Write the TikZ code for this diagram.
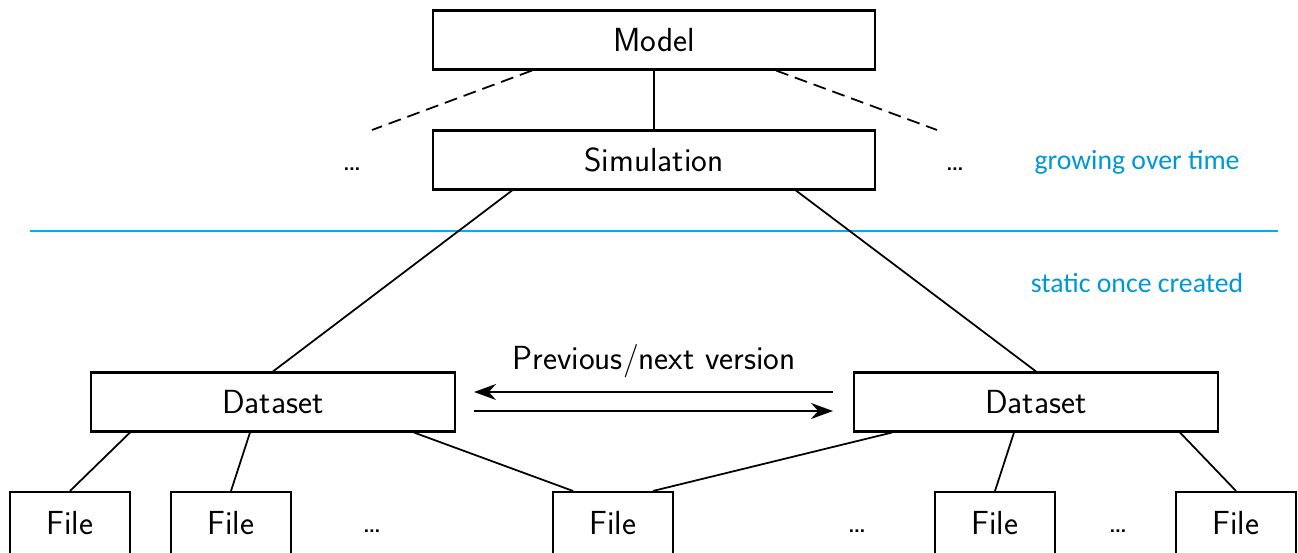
\documentclass[tikz,border=0pt]{standalone}
\usepackage{fontspec}
\newfontfamily\notefont{Carlito}
\usepackage{tikz}
\usetikzlibrary{arrows.meta}
\usetikzlibrary{calc,positioning}
\definecolor{noteblue}{RGB}{0,152,212}
\definecolor{lineblue}{RGB}{0,174,239}

\begin{document}
\begin{tikzpicture}[x=0.02cm, y=-0.02cm, >={Stealth[length=4.4mm,width=3.2mm]},
        box/.style={draw, line width=1.2pt, inner sep=0pt, minimum height=1.18cm,
            font=\sffamily\fontsize{19}{22}\selectfont},
        wide/.style={box, minimum width=8.84cm},
        data/.style={box, minimum width=7.28cm},
        file/.style={box, minimum width=2.4cm, minimum height=1.24cm},
        dots/.style={font=\sffamily\fontsize{19}{22}\selectfont},
        note/.style={text=noteblue, font=\notefont\fontsize{15.8}{18}\selectfont},
        link/.style={line width=1pt}]
        \useasboundingbox (0,0) rectangle (1298,553);

        \node[wide] (Model) at (654,40) {Model};
        \node[wide] (Sim) at (654,160) {Simulation};
        \node[data] (DsL) at (273,402) {Dataset};
        \node[data] (DsR) at (1036,402) {Dataset};

        \node[file] (F1) at (70,523) {File};
        \node[file] (F2) at (231,523) {File};
        \node[file] (F3) at (613,523) {File};
        \node[file] (F4) at (995,523) {File};
        \node[file] (F5) at (1236,523) {File};

        \node[dots] (D1) at (352,169) {\dots};
        \node[dots] (D2) at (955,169) {\dots};
        \node[dots] (D3) at (372,531) {\dots};
        \node[dots] (D4) at (857,531) {\dots};
        \node[dots] (D5) at (1118,531) {\dots};

        \node[note] (Grow) at (1137,162) {growing over time};
        \node[note] (Static) at (1137,283) {static once created};
        \draw[lineblue, line width=1.3pt] (30,231) -- (1278,231);

        % model and simulations
        \coordinate (GL) at (372,130);
        \coordinate (GR) at (937,130);
        \draw[link] (Model) -- (Sim);
        \draw[link, dash pattern=on 2.6mm off 1.4mm] ($(Model.south west)+(100,0)$) -- (GL);
        \draw[link, dash pattern=on 2.6mm off 1.4mm] ($(Model.south east)+(-100,0)$) -- (GR);
        \draw[link] ($(Sim.south west)+(80,0)$) -- (DsL.north);
        \draw[link] ($(Sim.south east)+(-80,0)$) -- (DsR.north);

        % versions
        \draw[->, link] ($(DsR.west)+(-20,-10)$) -- ($(DsL.east)+(18,-10)$);
        \draw[->, link] ($(DsL.east)+(18,9)$) -- ($(DsR.west)+(-20,9)$);
        \node[dots] (Ver) at (654,361) {Previous/next version};

        % files
        \draw[link] ($(DsL.south west)+(40,0)$) -- (F1.north);
        \draw[link] ($(DsL.south west)+(160,0)$) -- (F2.north);
        \draw[link] ($(DsL.south east)+(-42,0)$) -- ($(F3.north)+(-40,0)$);
        \draw[link] ($(DsR.south west)+(39,0)$) -- ($(F3.north)+(40,0)$);
        \draw[link] ($(DsR.south west)+(161,0)$) -- (F4.north);
        \draw[link] ($(DsR.south east)+(-39,0)$) -- (F5.north);
    \end{tikzpicture}
\end{document}
